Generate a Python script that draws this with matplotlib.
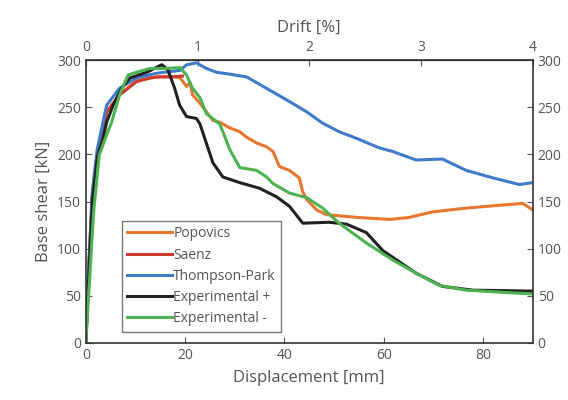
import numpy as np
import matplotlib
matplotlib.use('Agg')
import matplotlib.pyplot as plt

plt.rcParams['font.family'] = ['Open Sans', 'DejaVu Sans']

# displacement [mm] / base shear [kN]
popX = [0, 0.6, 1.3, 2.3, 4.2, 6.8, 10.2, 14.3, 17, 19, 20.3, 21, 21.5, 23, 25.6, 27, 29, 31, 32.4,
        34.4, 36.4, 37.7, 39, 41, 43, 43.7, 44.5, 46.5, 48.5, 55, 61.2, 65, 69.8, 76.6, 83.3, 88, 90]
popY = [0, 80, 155, 200, 245, 263, 278, 282, 283, 281, 272, 276, 263, 254, 236, 234, 228, 224, 218,
        212, 208, 203, 187, 183, 175, 160, 152, 141, 136, 133, 131, 133, 139, 143, 146, 148, 141]

saeX = [0, 0.6, 1.3, 2.3, 4.2, 6.8, 10.2, 12.9, 14.3, 17, 19.5]
saeY = [0, 80, 155, 200, 245, 263, 277, 281, 282, 282, 283]

tpX = [0, 0.6, 1.3, 2.3, 4.2, 6.8, 10.2, 14.3, 19, 20.3, 22.3, 24.3, 26.3, 29, 32.4, 34.4, 37.7,
       41, 44.5, 47.7, 51, 54.5, 59, 61.8, 66.5, 71.8, 76.6, 82, 87.3, 90]
tpY = [0, 80, 160, 205, 252, 270, 281, 286, 289, 295, 297, 291, 287, 285, 282, 276, 266,
       256, 245, 233, 224, 217, 207, 203, 194, 195, 183, 175, 168, 170]

expPX = [0, 0.7, 1.35, 2.4, 3.4, 4.2, 5.5, 7.2, 8.9, 12.3, 15.3, 16.5, 17.9, 18.9, 20.3, 22.3, 23.0,
         25.6, 27.6, 31, 35, 38.4, 41, 43.7, 49, 52.5, 56.5, 59.8, 66.5, 71.8, 78, 90]
expPY = [0, 80, 152, 199, 215, 234, 252, 270, 281, 287, 295, 290, 270, 252, 240, 238, 232,
         191, 176, 170, 164, 155, 145, 127, 128, 126, 117, 98, 74, 60, 56, 55]

expMX = [0, 0.8, 1.6, 2.7, 4, 5.2, 6.8, 8.5, 10.2, 12.9, 16, 19, 20.3, 21.5, 23, 24.3, 27, 29, 31,
         34.4, 36.4, 37.7, 41, 44.5, 47.7, 51, 56.5, 61.8, 66.5, 71.2, 76.6, 83, 90]
expMY = [0, 70, 140, 199, 218, 234, 263, 284, 287, 291, 291, 292, 284, 270, 260, 243, 232, 205, 186,
         183, 176, 169, 159, 154, 143, 127, 106, 88, 74, 61, 56, 54, 52]

txt = '#555555'
fig = plt.figure(figsize=(5.68, 4.0), dpi=100)
ax = fig.add_axes([0.151, 0.1425, 0.787, 0.7075])

ax.plot(popX, popY, color='#E8772E', lw=2.2, label='Popovics')
ax.plot(saeX, saeY, color='#D03A2F', lw=2.2, label='Saenz')
ax.plot(tpX, tpY, color='#3F7BC8', lw=2.2, label='Thompson-Park')
ax.plot(expPX, expPY, color='#222222', lw=2.2, label='Experimental +')
ax.plot(expMX, expMY, color='#4DB351', lw=2.2, label='Experimental -')

ax.set_xlim(0, 90)
ax.set_ylim(0, 300)
ax.set_xticks(np.arange(0, 81, 20))
ax.set_yticks(np.arange(0, 301, 50))
ax.tick_params(direction='in', right=True, labelright=True, labelsize=10,
               colors=txt, length=4)
for s in ax.spines.values():
    s.set_color('#333333')
    s.set_linewidth(1.2)

ax.set_xlabel('Displacement [mm]', color=txt, fontsize=12, labelpad=5)
ax.set_ylabel('Base shear [kN]', color=txt, fontsize=12, labelpad=4)

top = ax.secondary_xaxis('top', functions=(lambda d: d / 22.5, lambda p: p * 22.5))
top.set_xticks([0, 1, 2, 3, 4])
top.tick_params(direction='in', labelsize=10, colors=txt, length=4)
top.set_xlabel('Drift [%]', color=txt, fontsize=12, labelpad=6)

leg = ax.legend(loc='lower left', bbox_to_anchor=(0.065, 0.015), fontsize=10,
                handlelength=3.2, handletextpad=0.1, borderpad=0.4, labelspacing=0.45,
                fancybox=False, framealpha=1)
leg.get_frame().set_edgecolor('#777777')
for t in leg.get_texts():
    t.set_color(txt)

plt.savefig('out.png', dpi=100)
